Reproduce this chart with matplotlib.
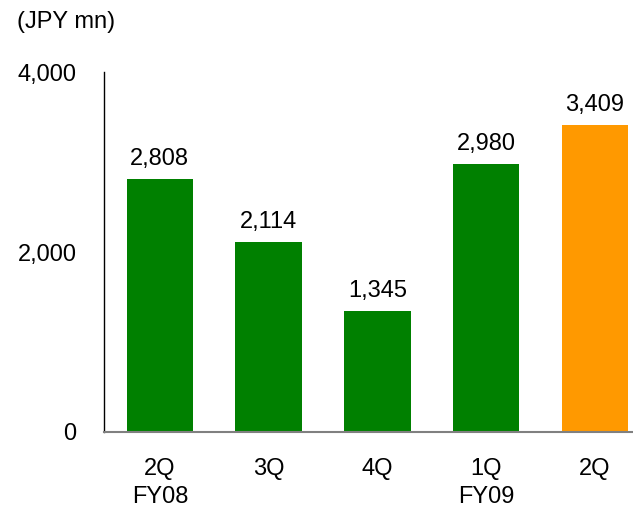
import matplotlib
matplotlib.use("Agg")
import matplotlib.pyplot as plt

plt.rcParams['font.family'] = ['Liberation Sans', 'DejaVu Sans']

quarters = ['2Q\nFY08', '3Q', '4Q', '1Q\nFY09', '2Q']
sales = [2808, 2114, 1345, 2980, 3409]
colors = ['#008000', '#008000', '#008000', '#008000', '#FF9900']
yticks = [0, 2000, 4000]

fig = plt.figure(figsize=(6.33, 5.11), dpi=100)
ax = fig.add_axes([0.164, 0.1546, 0.836, 0.7044])

x = range(len(quarters))
ax.bar(x, sales, width=0.61, color=colors)
for xi, v in zip(x, sales):
    ax.text(xi, v + 100, f"{v:,}", ha='center', va='bottom', fontsize=17)

ax.set_xlim(-0.515, 4.35)
ax.set_ylim(0, 4000)
ax.set_yticks(yticks)
ax.set_yticklabels([f"{t:,}" for t in yticks], fontsize=17)
ax.set_xticks(list(x))
ax.set_xticklabels(quarters, fontsize=17, linespacing=1.35)
ax.tick_params(axis='y', length=0, pad=19.5)
ax.tick_params(axis='x', length=0, pad=19)

for s in ['top', 'right']:
    ax.spines[s].set_visible(False)
ax.spines['left'].set_color('black')
ax.spines['left'].set_linewidth(1.0)
ax.spines['bottom'].set_color('#808080')
ax.spines['bottom'].set_linewidth(1.5)

fig.text(17 / 633, 1 - 22 / 511, '(JPY mn)', ha='left', va='center', fontsize=17)

fig.savefig('out.png', dpi=100)
